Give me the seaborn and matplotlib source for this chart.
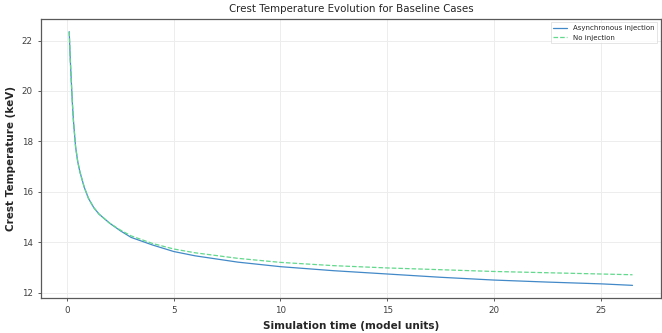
import matplotlib
matplotlib.use("Agg")
import matplotlib.pyplot as plt
import seaborn as sns
import pandas as pd

time = [0.1, 0.15, 0.2, 0.25, 0.3, 0.4, 0.5, 0.6, 0.8, 1.0, 1.25, 1.5, 2.0, 2.5,
        3.0, 4.0, 5.0, 6.0, 8.0, 10.0, 12.5, 15.0, 17.5, 20.0, 22.5, 25.0, 26.5]
async_temp = [22.35, 21.25, 20.35, 19.5, 18.8, 17.78, 17.2, 16.8, 16.2, 15.75, 15.38,
              15.12, 14.76, 14.46, 14.2, 13.9, 13.64, 13.47, 13.22, 13.04, 12.88,
              12.75, 12.62, 12.51, 12.43, 12.36, 12.30]
noinj_temp = [22.35, 21.25, 20.35, 19.5, 18.8, 17.78, 17.2, 16.8, 16.2, 15.75, 15.38,
              15.12, 14.76, 14.49, 14.26, 13.96, 13.74, 13.59, 13.37, 13.21, 13.08,
              12.99, 12.92, 12.85, 12.8, 12.75, 12.72]

sns.set_style("whitegrid")
plt.rcParams['font.family'] = ['DejaVu Sans']

fig, ax = plt.subplots(figsize=(6.62, 3.33), dpi=100)

df_a = pd.DataFrame({"t": time, "T": async_temp})
df_n = pd.DataFrame({"t": time, "T": noinj_temp})
sns.lineplot(data=df_a, x="t", y="T", ax=ax, color="#4289c8", linewidth=0.9,
             label="Asynchronous injection")
sns.lineplot(data=df_n, x="t", y="T", ax=ax, color="#62d98c", linewidth=0.9,
             linestyle="--", label="No injection")

ax.set_title("Crest Temperature Evolution for Baseline Cases", fontsize=7.4, pad=5)
ax.set_xlabel("Simulation time (model units)", fontsize=7.5, fontweight="bold")
ax.set_ylabel("Crest Temperature (keV)", fontsize=7.5, fontweight="bold")
ax.set_xticks([0, 5, 10, 15, 20, 25])
ax.set_yticks([12, 14, 16, 18, 20, 22])
ax.tick_params(labelsize=6.3, length=2.5, width=0.6, left=True, bottom=True,
               colors="0.25")
ax.grid(True, color="0.93", linewidth=0.7)
for s in ax.spines.values():
    s.set_color("0.35")
    s.set_linewidth(0.9)
leg = ax.legend(loc="upper right", fontsize=5, frameon=True, fancybox=False,
                handlelength=2.0)
leg.get_frame().set_edgecolor("0.85")
leg.get_frame().set_linewidth(0.6)

fig.subplots_adjust(left=0.062, right=0.998, top=0.943, bottom=0.105)
fig.savefig("out.png", dpi=100)
